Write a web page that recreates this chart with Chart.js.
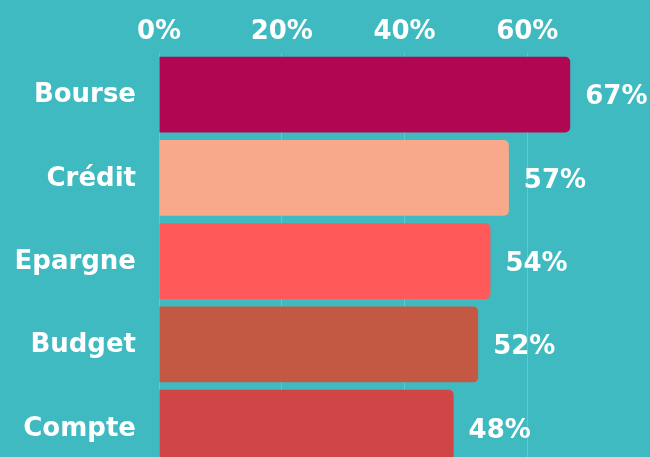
<!DOCTYPE html>
<html>
<head>
<meta charset="utf-8">
<script src="https://cdn.jsdelivr.net/npm/chart.js@4.4.0/dist/chart.umd.min.js"></script>
<style>
    html, body { margin: 0; padding: 0; background: #3EBAC0; overflow: hidden; }
    .frame { width: 650px; height: 457px; overflow: hidden; position: relative; }
    #bars { position: absolute; left: 0; top: 0; }
</style>
</head>
<body>
<div class="frame">
    <canvas id="bars" width="655" height="500"></canvas>
</div>
<script>
// --- data ---
const categories = ['Bourse', 'Crédit', 'Epargne', 'Budget', 'Compte'];
const values = [67, 57, 54, 52, 48];
const barColors = ['#B10753', '#F8A98B', '#FF5959', '#C35843', '#D04646'];
const tickValues = [0, 20, 40, 60];

const FONT = '"DejaVu Sans", sans-serif';

// value labels to the right of each bar
const valueLabels = {
    id: 'valueLabels',
    afterDatasetsDraw(chart) {
        const ctx = chart.ctx;
        const meta = chart.getDatasetMeta(0);
        ctx.save();
        ctx.font = 'bold 26px ' + FONT;
        ctx.fillStyle = '#ffffff';
        ctx.textAlign = 'left';
        ctx.textBaseline = 'middle';
        meta.data.forEach((bar, i) => {
            ctx.fillText(values[i] + '%', bar.x + 15, bar.y + 3);
        });
        ctx.restore();
    }
};

new Chart(document.getElementById('bars'), {
    type: 'bar',
    data: {
        labels: categories,
        datasets: [{
            data: values,
            backgroundColor: barColors,
            borderRadius: 5,
            borderSkipped: 'start',
            categoryPercentage: 1,
            barPercentage: 0.91
        }]
    },
    options: {
        indexAxis: 'y',
        responsive: false,
        animation: false,
        layout: { padding: 0 },
        scales: {
            x: {
                position: 'top',
                min: 0,
                max: 80,
                afterFit: (axis) => { axis.height = 53; },
                afterBuildTicks: (axis) => {
                    axis.ticks = tickValues.map(v => ({ value: v })).concat([{ value: 80 }]);
                },
                grid: { color: 'rgba(255,255,255,0.2)', drawTicks: false },
                border: { display: false },
                ticks: {
                    padding: 5,
                    color: '#ffffff',
                    font: { family: FONT, size: 26, weight: 'bold' },
                    callback: (v) => tickValues.includes(v) ? v + '%' : ''
                }
            },
            y: {
                afterFit: (axis) => { axis.width = 159; },
                grid: { display: false },
                border: { display: false },
                ticks: {
                    padding: 15,
                    labelOffset: 1,
                    color: '#ffffff',
                    font: { family: FONT, size: 26, weight: 'bold' }
                }
            }
        },
        plugins: {
            legend: { display: false },
            tooltip: { enabled: false }
        }
    },
    plugins: [valueLabels]
});
</script>
</body>
</html>
